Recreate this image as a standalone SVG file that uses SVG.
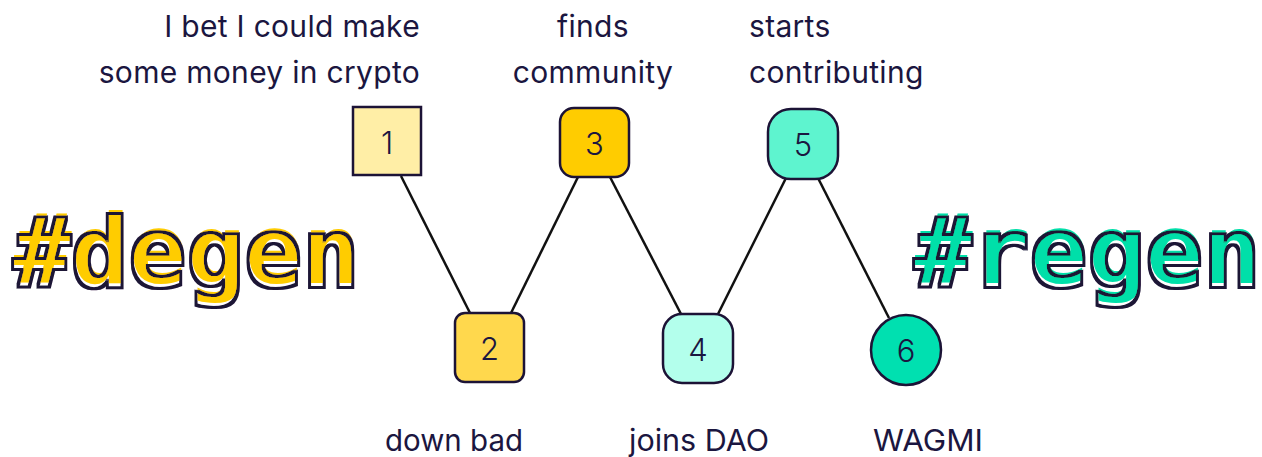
<svg xmlns="http://www.w3.org/2000/svg" width="1262" height="457" viewBox="0 0 1262 457">
  <style>
    .lbl { font-family: Inter, "Noto Sans", sans-serif; font-size: 30px; letter-spacing: 0.3px; fill: #1b1640; }
    .lbl-b { font-family: Inter, "Noto Sans", sans-serif; font-size: 30px; fill: #1b1640; }
    .num { font-family: Inter, "Noto Sans", sans-serif; font-size: 31px; font-weight: 300; fill: #1b1640; text-anchor: middle; dominant-baseline: central; }
    .box { stroke: #1c1336; stroke-width: 2.5; }
    .edge { stroke: #111; stroke-width: 2.5; fill: none; }
    .tag { font-family: "DejaVu Sans Mono", "Liberation Mono", monospace; font-weight: bold; font-size: 96px; filter: url(#lift-outline); }
  </style>

  <defs>
    <!-- coloured fill lifted upward, thin dark ring traced at the original glyph position -->
    <filter id="lift-outline" x="-5%" y="-25%" width="110%" height="150%">
      <feOffset in="SourceGraphic" dx="1" dy="-4" result="lift"/>
      <feMorphology in="SourceAlpha" operator="dilate" radius="1.6" result="outer"/>
      <feMorphology in="SourceAlpha" operator="erode" radius="1.2" result="inner"/>
      <feComposite in="outer" in2="inner" operator="out" result="ring"/>
      <feFlood flood-color="#1c1336"/>
      <feComposite in2="ring" operator="in" result="ink"/>
      <feMerge>
        <feMergeNode in="lift"/>
        <feMergeNode in="ink"/>
      </feMerge>
    </filter>
  </defs>

  <rect width="1262" height="457" fill="#ffffff"/>

  <!-- hashtag titles -->
  <g id="tag-degen">
    <text class="tag" x="13" y="287" fill="#ffcc00">#degen</text>
  </g>
  <g id="tag-regen">
    <text class="tag" x="914" y="287" fill="#00dfa9">#regen</text>
  </g>

  <!-- connectors -->
  <g id="edges" class="edge">
    <line x1="401" y1="176" x2="470" y2="313"/>
    <line x1="511" y1="313" x2="578" y2="177"/>
    <line x1="610" y1="177" x2="681" y2="314"/>
    <line x1="718" y1="314" x2="786" y2="178"/>
    <line x1="818" y1="178" x2="889" y2="318"/>
  </g>

  <!-- steps -->
  <g id="node-1">
    <rect class="box" x="353" y="107" width="68" height="68" fill="#ffeea6"/>
    <text class="num" x="387" y="142">1</text>
  </g>
  <g id="node-2">
    <rect class="box" x="455" y="313" width="69" height="69" rx="10" fill="#ffd84d"/>
    <text class="num" x="489.5" y="348">2</text>
  </g>
  <g id="node-3">
    <rect class="box" x="560" y="108" width="69" height="69" rx="14" fill="#ffcc00"/>
    <text class="num" x="594.5" y="143">3</text>
  </g>
  <g id="node-4">
    <rect class="box" x="663" y="314" width="70" height="69" rx="19" fill="#b3ffec"/>
    <text class="num" x="698" y="349">4</text>
  </g>
  <g id="node-5">
    <rect class="box" x="768" y="109" width="70" height="70" rx="23" fill="#5ef4cf"/>
    <text class="num" x="803" y="144">5</text>
  </g>
  <g id="node-6">
    <circle class="box" cx="906" cy="350" r="35" fill="#00e0b0"/>
    <text class="num" x="906" y="350">6</text>
  </g>

  <!-- captions above -->
  <g id="captions-top" class="lbl">
    <text x="420" y="37" text-anchor="end">I bet I could make</text>
    <text x="420" y="83" text-anchor="end">some money in crypto</text>
    <text x="593" y="37" text-anchor="middle">finds</text>
    <text x="593" y="83" text-anchor="middle">community</text>
    <text x="749" y="37">starts</text>
    <text x="749" y="83">contributing</text>
  </g>

  <!-- captions below -->
  <g id="captions-bottom" class="lbl-b">
    <text x="385" y="451" textLength="138" lengthAdjust="spacingAndGlyphs">down bad</text>
    <text x="629" y="451" textLength="140" lengthAdjust="spacingAndGlyphs">joins DAO</text>
    <text x="873" y="451" textLength="110" lengthAdjust="spacingAndGlyphs">WAGMI</text>
  </g>
</svg>
